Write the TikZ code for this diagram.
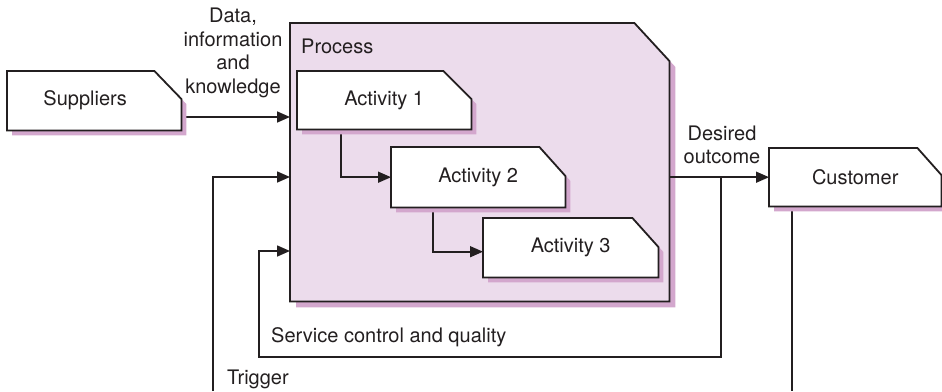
\documentclass[tikz,border=0pt]{standalone}
\usepackage{fontspec}
\setmainfont{TeX Gyre Heros}
\usetikzlibrary{arrows.meta}

\definecolor{ink}{HTML}{231F20}
\definecolor{procfill}{HTML}{ECDCEC}
\definecolor{shadowpink}{HTML}{D3A7CD}

\pgfdeclarelayer{proclayer}
\pgfdeclarelayer{wirelayer}
\pgfdeclarelayer{boxlayer}
\pgfsetlayers{proclayer,wirelayer,boxlayer,main}

% Box with the top-right corner cut off and a pink drop shadow.
% #1 node, #2 cut width, #3 cut height, #4 shadow offset, #5 fill colour
\newcommand{\cutcorner}[5]{%
  \fill[shadowpink] ([shift={(#4,#4)}]#1.north west)
    -- ([shift={(#4-#2,#4)}]#1.north east)
    -- ([shift={(#4,#4+#3)}]#1.north east)
    -- ([shift={(#4,#4)}]#1.south east)
    -- ([shift={(#4,#4)}]#1.south west) -- cycle;
  \draw[outline,fill=#5] (#1.north west)
    -- ([shift={(-#2,0)}]#1.north east)
    -- ([shift={(0,#3)}]#1.north east)
    -- (#1.south east)
    -- (#1.south west) -- cycle;
}

\begin{document}
\begin{tikzpicture}[
  x=1pt, y=-1pt,
  font=\fontsize{20}{23.5}\selectfont,
  text=ink,
  slot/.style={anchor=north west, inner sep=0pt, draw=none},
  outline/.style={draw=ink, line width=1.8pt, line join=miter},
  wire/.style={draw=ink, line width=1.6pt},
  arr/.style={wire, -{Triangle[length=13pt,width=11pt]}},
  caption/.style={align=center, inner sep=0pt},
]
\useasboundingbox (0,0) rectangle (942,391);

% Boxes (text only; outlines are drawn on the layers below)
\node[slot, minimum width=174pt, minimum height=59pt,
      label={[xshift=-9pt]center:Suppliers}] (sup) at (7,71) {};
\node[slot, minimum width=379pt, minimum height=278pt] (proc) at (290,23) {};
\node[slot, minimum width=174pt, minimum height=58pt] (a1) at (297,71) {};
\node[slot, minimum width=174pt, minimum height=60pt] (a2) at (391,147) {};
\node[slot, minimum width=175pt, minimum height=59pt] (a3) at (483,218) {};
\node[slot, minimum width=172pt, minimum height=58pt] (cust) at (769,148) {};

\node at (a1.center) {Activity 1};
\node at (a2.center) {Activity 2};
\node at (a3.center) {Activity 3};
\node at (cust.center) {Customer};

\begin{pgfonlayer}{proclayer}
  \cutcorner{proc}{35}{38}{6}{procfill}
\end{pgfonlayer}
\begin{pgfonlayer}{boxlayer}
  \cutcorner{sup}{27}{28}{5}{white}
  \cutcorner{a1}{28}{28}{5}{white}
  \cutcorner{a2}{26}{29}{5}{white}
  \cutcorner{a3}{26}{29}{5}{white}
  \cutcorner{cust}{24}{27}{5}{white}
\end{pgfonlayer}

% Labels
\node[anchor=base west, inner sep=0pt] (proclabel) at (301,53) {Process};
\node[caption] (datalabel) at (233,53) {Data,\\information\\and\\knowledge};
\node[caption] (outlabel) at (722,145) {Desired\\outcome};
\node[anchor=base west, inner sep=0pt] (servlabel) at (271,342) {Service control and quality};
\node[anchor=base west, inner sep=0pt] (triglabel) at (227,384) {Trigger};

% Connector end points
\coordinate (datain) at (290,117);
\coordinate (trigin) at (290,177);
\coordinate (trigfoot) at (213,391);
\coordinate (servin) at (290,251);
\coordinate (servcorner) at (259,357);
\coordinate (tap) at (721,178);
\coordinate (custfoot) at (792,391);

\begin{pgfonlayer}{wirelayer}
  \draw[arr] (sup.east |- datain) -- (datain);
  \draw[arr] (trigfoot) |- (trigin);
  \draw[arr] (tap) |- (servcorner) |- (servin);
  \draw[arr] (proc.east |- cust.west) -- (cust.west);
  \draw[wire] (custfoot |- cust.south) -- (custfoot);
  \draw[arr] ([xshift=-43pt]a1.south) |- (a2.west);
  \draw[arr] ([xshift=-45pt]a2.south) |- ([yshift=-4pt]a3.west);
\end{pgfonlayer}
\end{tikzpicture}
\end{document}
